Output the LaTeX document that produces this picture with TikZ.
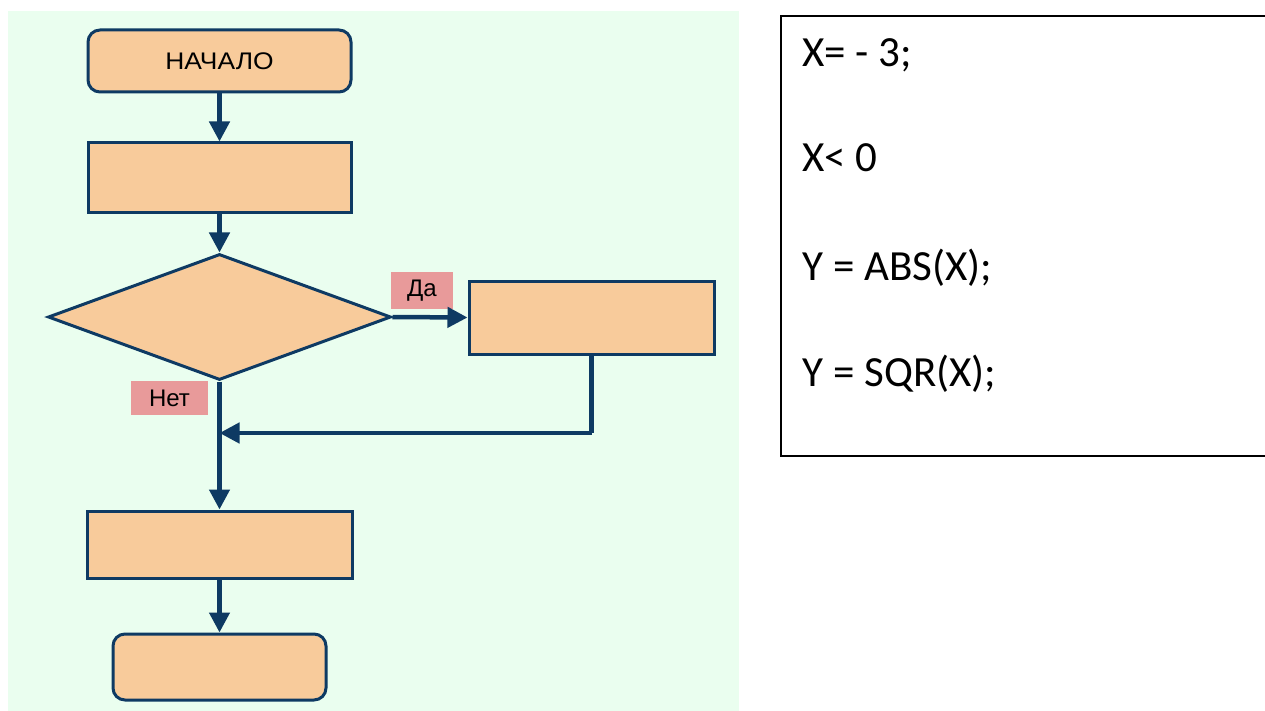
\documentclass[tikz,border=0pt]{standalone}
\usepackage{fontspec}
\setmainfont{Liberation Sans}
\newfontfamily\widefont[FakeStretch=1.1]{Liberation Sans}
\newfontfamily\codefont{Carlito}
\usetikzlibrary{shapes.geometric,arrows.meta}
\definecolor{panelbg}{HTML}{EAFEEF}
\definecolor{boxfill}{HTML}{F8CB9B}
\definecolor{lineblue}{HTML}{0E3A63}
\definecolor{labelpink}{HTML}{E89A9A}
\tikzset{
  flow/.style={draw=lineblue, line width=3pt, fill=boxfill, inner sep=0pt},
  procbox/.style={flow, rectangle, minimum width=#1},
  termbox/.style={flow, rectangle, rounded corners=12pt},
  decbox/.style={flow, diamond, aspect=2.72, minimum width=343pt, minimum height=126pt},
  arr/.style={draw=lineblue, line width=4.5pt, -{Triangle[length=20pt,width=20pt]}},
  plainline/.style={draw=lineblue, line width=4.5pt},
  tag/.style={fill=labelpink, inner sep=0pt, font=\fontsize{24}{28}\selectfont},
  codeline/.style={anchor=base west, font=\codefont\fontsize{43}{50}\selectfont}
}
\begin{document}
\begin{tikzpicture}[x=1pt, y=-1pt]
\useasboundingbox (0,0) rectangle (1265,711);
% background panel
\fill[panelbg] (8,11) rectangle (739,711);

% flowchart blocks
\node[termbox, minimum width=263pt, minimum height=62pt, font=\widefont\fontsize{24}{28}\selectfont] (start) at (219.5,61) {НАЧАЛО};
\node[procbox=263pt, minimum height=70pt] (p1) at (219.5,178) {};
\node[decbox] (dec) at (219.5,317) {};
\node[procbox=245pt, minimum height=73pt] (yes) at (591.5,317.5) {};
\node[procbox=265pt, minimum height=67pt] (p2) at (219.5,544.5) {};
\node[termbox, minimum width=213pt, minimum height=66pt] (stop) at (219.5,667) {};

% branch labels
\node[tag, minimum width=62pt, minimum height=37pt] (da) at (422,290.5) {Да};
\node[tag, minimum width=77pt, minimum height=34pt] (net) at (169.5,398) {Нет};

% connectors
\coordinate (corner) at (yes.south |- 0,433);
\coordinate (join) at (dec.south |- 0,433);
\draw[arr] (start.south) -- (p1.north);
\draw[arr] (p1.south) -- (dec.north);
\draw[arr] (dec.east) -- (yes.west);
\draw[plainline] (yes.south) -- (corner);
\draw[arr] (corner) -- (join);
\draw[arr] (dec.south) -- (p2.north);
\draw[arr] (p2.south) -- (stop.north);

% text box with the program lines
\draw[black, line width=1.5pt] (1266,16) -- (781,16) -- (781,456) -- (1266,456);
\node[codeline] (l1) at (799,67) {X= - 3;};
\node[codeline] (l2) at (799,172) {X< 0};
\node[codeline] (l3) at (799,280) {Y = ABS(X);};
\node[codeline] (l4) at (799,386) {Y = SQR(X);};
\end{tikzpicture}
\end{document}
